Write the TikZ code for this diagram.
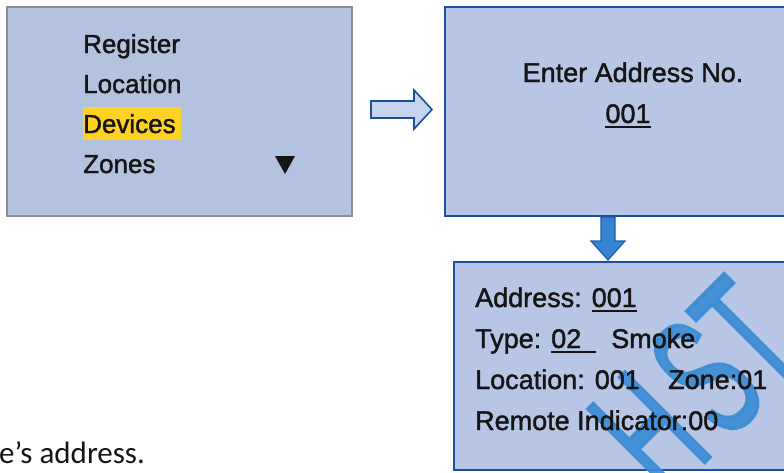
\documentclass[tikz,border=0pt]{standalone}
\usepackage{fontspec}
\setmainfont{Liberation Sans}[FakeBold=1.5]
\newfontfamily\pagefont{Carlito}
\newfontfamily\stampfont{Liberation Sans}[FakeBold=2]
\usetikzlibrary{calc}

\definecolor{panelfill}{HTML}{B6C6E4}
\definecolor{menufill}{HTML}{B3C3DF}
\definecolor{menuedge}{HTML}{8E8E8E}
\definecolor{lcdedge}{HTML}{1C4F9E}
\definecolor{hollowfill}{HTML}{C6D4EE}
\definecolor{solidfill}{HTML}{3484D2}
\definecolor{solidedge}{HTML}{1F5EA8}
\definecolor{selected}{HTML}{FFD222}
\definecolor{stamp}{HTML}{3A8CD4}
\definecolor{ink}{HTML}{151515}

% underline with a chosen overhang past the text
\newcommand\lineunder[3][0pt]{\setbox0=\hbox{#3}\rlap{\rule[#2]{\dimexpr\wd0+#1\relax}{1.8pt}}\box0\hspace{#1}}

\tikzset{
  menubox/.style={draw=menuedge, line width=1.8pt, fill=menufill, inner sep=0pt},
  lcdbox/.style={draw=lcdedge, line width=2.2pt, fill=panelfill, inner sep=0pt},
  menutext/.style={text=ink, inner sep=0pt, anchor=base west, font=\fontsize{26}{30}\selectfont},
  lcdtext/.style={text=ink, inner sep=0pt, font=\fontsize{27}{32}\selectfont},
  hollowarrow/.style={draw=lcdedge, line width=1.6pt, fill=hollowfill, line join=miter},
  solidarrow/.style={draw=solidedge, line width=1.2pt, fill=solidfill, line join=miter},
  stampmark/.style={text=stamp, opacity=0.9, inner sep=0pt, rotate=45,
    font=\stampfont\fontsize{175}{175}\selectfont},
}
\newcommand\stampletter[1]{\scalebox{0.55}[1]{#1}}

\begin{document}
\begin{tikzpicture}[x=1pt, y=-1pt]
\useasboundingbox (0,0) rectangle (784,472);
\clip (0,0) rectangle (784,472);

% --- menu screen ---
\node[menubox, minimum width=345pt, minimum height=209pt] (menu) at (179.5,111.5) {};
\fill[selected] (83,107) rectangle (181,140);
\node[menutext] (register) at (83,53) {Register};
\node[menutext] (location) at (83,93) {Location};
\node[menutext] (devices) at (83,133) {Devices};
\node[menutext] (zones) at (83,173) {Zones};
\fill[ink] (275,156) -- (295,156) -- (285,174) -- cycle;

% --- address entry screen ---
\node[lcdbox, minimum width=376pt, minimum height=209pt] (entry) at (633,111.5) {};
\node[lcdtext, anchor=base] (prompt) at (633,82) {Enter Address No.};
\node[lcdtext, anchor=base] (addrno) at (628,123) {\lineunder{-4.6pt}{001}};

% --- device detail screen ---
\node[lcdbox, minimum width=358pt, minimum height=208pt] (detail) at (633,366) {};
\node[stampmark] (stampH) at (649,433) {\stampletter{H}};
\node[stampmark] (stampS) at (706,377) {\stampletter{S}};
\node[stampmark] (stampT) at (748,335) {\stampletter{T}};
\node[lcdtext, anchor=base west] (addr) at (475,307) {Address: \lineunder{-5pt}{001}};
\node[lcdtext, anchor=base west] (type) at (475,348) {Type: \lineunder[15pt]{-5pt}{02}\hspace{15pt}Smoke};
\node[lcdtext, anchor=base west] (loc) at (475,389) {Location: 001};
\node[lcdtext, anchor=base west] (zone) at (668,389) {Zone:01};
\node[lcdtext, anchor=base west] (remote) at (475,430) {Remote Indicator:00};

% --- hollow arrow: menu -> entry ---
\coordinate (h0) at (371,109.5);
\coordinate (h1) at (432,109.5);
\draw[hollowarrow] (h0) ++(0,-8.5) -- ++(43,0) -- ++(0,-11) -- (h1)
   -- ($(h0)+(43,19.5)$) -- ++(0,-11) -- ($(h0)+(0,8.5)$) -- cycle;

% --- solid arrow: entry -> detail ---
\coordinate (d0) at (entry.south -| 608,0);
\coordinate (d1) at (608,260);
\draw[solidarrow] ($(d0)+(-7,0)$) -- ($(d0)+(7,0)$) -- ($(d1)+(7,-19)$) -- ($(d1)+(17,-19)$)
   -- (d1) -- ($(d1)+(-17,-19)$) -- ($(d1)+(-7,-19)$) -- cycle;

% --- running text below ---
\node[text=ink, inner sep=0pt, anchor=base west, font=\pagefont\fontsize{31}{36}\selectfont] (caption) at (-1,463) {e’s address.};
\end{tikzpicture}
\end{document}
